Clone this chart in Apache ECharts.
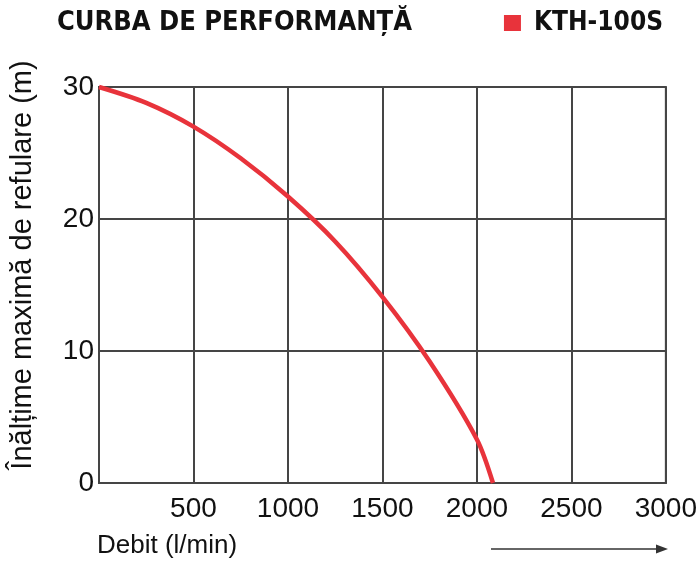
<!DOCTYPE html>
<html>
<head>
<meta charset="utf-8">
<script src="https://cdn.jsdelivr.net/npm/echarts@6/dist/echarts.min.js"></script>
<style>
html,body{margin:0;padding:0;background:#fff;}
#chart{width:700px;height:566px;}
</style>
</head>
<body>
<div id="chart"></div>
<script>
// Data
var seriesName = 'KTH-100S';
var flowValues = [0, 250, 500, 750, 1000, 1250, 1500, 1750, 2000, 2085];   // Debit (l/min)
var headValues = [30, 28.8, 27.0, 24.6, 21.7, 18.3, 14.1, 9.2, 3.3, 0];     // Înălțime (m)
var xTicks = [0, 500, 1000, 1500, 2000, 2500, 3000];
var yTicks = [0, 10, 20, 30];
var titleText = 'CURBA DE PERFORMANȚĂ';
var xName = 'Debit (l/min)';
var yName = 'Înălțime maximă de refulare (m)';

var points = flowValues.map(function (f, i) { return [f, headValues[i]]; });
var condBold = "'Liberation Sans Narrow', 'DejaVu Sans Condensed', 'Roboto Condensed', 'Liberation Sans', sans-serif";
var reg = "'Liberation Sans Narrow', 'Liberation Sans', 'DejaVu Sans', sans-serif";
var gridColor = '#454545';
var red = '#e8333b';

var chart = echarts.init(document.getElementById('chart'), null, {renderer: 'canvas'});
chart.setOption({
  animation: false,
  backgroundColor: '#ffffff',
  title: {
    text: titleText,
    left: 52, top: 4,
    textStyle: {fontFamily: condBold, fontWeight: 'bold', fontSize: 27, color: '#111'}
  },
  legend: {
    data: [seriesName],
    right: 32, top: 5,
    icon: 'rect', itemWidth: 17, itemHeight: 16, itemGap: 10,
    textStyle: {fontFamily: condBold, fontWeight: 'bold', fontSize: 26, color: '#111', padding: [0,0,0,8]}
  },
  grid: {left: 95, right: 32, top: 87, bottom: 83, show: true, borderColor: gridColor, borderWidth: 2},
  xAxis: {
    type: 'value', min: xTicks[0], max: xTicks[xTicks.length - 1], interval: xTicks[1] - xTicks[0],
    axisLine: {show: true, lineStyle: {color: gridColor, width: 2}},
    axisTick: {show: false},
    splitLine: {show: true, lineStyle: {color: gridColor, width: 2}},
    axisLabel: {
      margin: 12, color: '#111', fontFamily: reg, fontSize: 28,
      formatter: function (v) { return v === 0 ? '' : String(v); }
    }
  },
  yAxis: {
    type: 'value', min: yTicks[0], max: yTicks[yTicks.length - 1], interval: yTicks[1] - yTicks[0],
    name: yName, nameLocation: 'middle', nameGap: 62, nameRotate: 90,
    nameTextStyle: {fontFamily: reg, fontSize: 29, color: '#111', padding: [0, 0, 0, 40]},
    axisLine: {show: true, lineStyle: {color: gridColor, width: 2}},
    axisTick: {show: false},
    splitLine: {show: true, lineStyle: {color: gridColor, width: 2}},
    axisLabel: {margin: 5, color: '#111', fontFamily: reg, fontSize: 28}
  },
  graphic: [
    {type: 'text', left: 97, top: 533, style: {text: xName, fontFamily: reg, fontSize: 26, fill: '#111'}},
    {type: 'line', shape: {x1: 491, y1: 549, x2: 660, y2: 549}, style: {stroke: '#333', lineWidth: 1.5}},
    {type: 'polygon', shape: {points: [[656, 544.5], [668, 549], [656, 553.5]]}, style: {fill: '#333'}}
  ],
  series: [{
    name: seriesName,
    type: 'line',
    data: points,
    smooth: 0.3,
    showSymbol: false,
    symbol: 'rect',
    itemStyle: {color: red},
    lineStyle: {color: red, width: 4.5},
    clip: false
  }]
});
</script>
</body>
</html>
